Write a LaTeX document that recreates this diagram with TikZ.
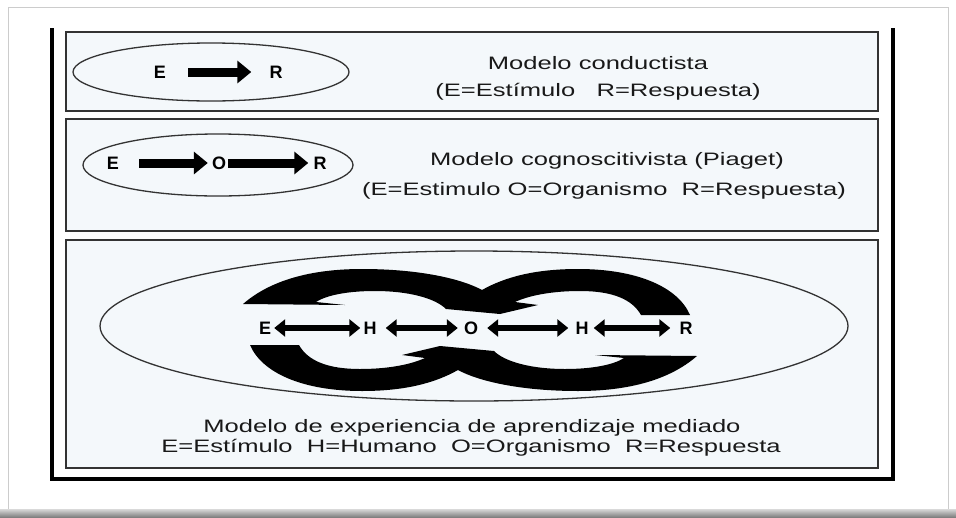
\documentclass[tikz,border=0pt]{standalone}
\usepackage{fontspec}
\setmainfont{Liberation Sans}
\usetikzlibrary{arrows.meta}
\definecolor{panelfill}{HTML}{F4F8FB}
\tikzset{
  panel/.style={draw=black!80, line width=1.4pt, fill=panelfill},
  oval/.style={draw=black!80, line width=1.3pt},
  letter/.style={font=\fontsize{18}{18}\selectfont\bfseries, inner sep=0pt, minimum width=12pt},
  caption/.style={font=\fontsize{18}{21}\selectfont, text=black!90, xscale=1.42, transform shape, align=center},
  fatarrow/.style={line width=9pt, -{Triangle[length=14pt,width=22pt]}},
  twoway/.style={line width=6pt, {Triangle[length=11pt,width=17pt]}-{Triangle[length=11pt,width=17pt]}},
  halfloop/.pic={
    \fill (243,304) .. controls (266,284) and (303,269) .. (362,269)
      .. controls (420,269) and (462,279) .. (482,290)
      .. controls (505,277) and (535,269) .. (578,269)
      .. controls (637,269) and (678,287) .. (690,315)
      -- (641,315)
      .. controls (632,299) and (612,291) .. (580,291)
      .. controls (550,291) and (528,296) .. (515,302)
      -- (538,305) -- (500,314) -- (446,309)
      .. controls (435,298) and (408,291) .. (375,291)
      .. controls (345,291) and (325,296) .. (316,302)
      -- (345,305) -- cycle;
  }
}
\begin{document}
\begin{tikzpicture}[x=1pt, y=-1pt]
  \useasboundingbox (0,0) rectangle (956,517);
  \fill[white] (0,0) rectangle (956,517);
  \draw[black!20, line width=1pt] (8.5,7.5) rectangle (948,509);
  \shade[top color=black!15, bottom color=black!50] (0,509) rectangle (956,517);

  \draw[line width=3.5pt] (52,28) -- (52,479) -- (893,479) -- (893,28);

  \draw[panel] (66,32) rectangle (878,111);
  \draw[panel] (66,119) rectangle (878,231);
  \draw[panel] (66,240) rectangle (878,468);

  % modelo conductista
  \draw[oval] (211,72) ellipse [x radius=138, y radius=29];
  \node[letter] (e1) at (160,72) {E};
  \node[letter] (r1) at (276,72) {R};
  \draw[fatarrow, shorten <=22pt, shorten >=18pt] (e1) -- (r1);
  \node[caption] (t1a) at (598,63) {Modelo conductista};
  \node[caption] (t1b) at (598,92) {(E=Estímulo~~~R=Respuesta)};

  % modelo cognoscitivista
  \draw[oval] (218,165) ellipse [x radius=135, y radius=31];
  \node[letter] (e2) at (113,163) {E};
  \node[letter] (o2) at (219,163) {O};
  \node[letter] (r2) at (320,163) {R};
  \draw[fatarrow, shorten <=20pt, shorten >=4pt] (e2) -- (o2);
  \draw[fatarrow, shorten <=2pt, shorten >=5pt] (o2) -- (r2);
  \node[caption] (t2a) at (607,161) {Modelo cognoscitivista (Piaget)};
  \node[caption] (t2b) at (604,191) {(E=Estimulo O=Organismo~~R=Respuesta)};

  % modelo de experiencia de aprendizaje mediado
  \draw[oval] (474,326) ellipse [x radius=374, y radius=75];
  \pic at (0,0) {halfloop};
  \pic[rotate=180] at (940,660) {halfloop};
  \node[letter] (e3) at (265,328) {E};
  \node[letter] (h3) at (370,328) {H};
  \node[letter] (o3) at (471,328) {O};
  \node[letter] (k3) at (582,328) {H};
  \node[letter] (r3) at (686,328) {R};
  \draw[twoway, shorten <=3pt, shorten >=3pt] (e3) -- (h3);
  \draw[twoway, shorten <=9pt, shorten >=6pt] (h3) -- (o3);
  \draw[twoway, shorten <=9pt, shorten >=7pt] (o3) -- (k3);
  \draw[twoway, shorten <=5pt, shorten >=9pt] (k3) -- (r3);
  \node[caption] (t3a) at (472,428) {Modelo de experiencia de aprendizaje mediado};
  \node[caption] (t3b) at (471,448) {E=Estímulo~~H=Humano~~O=Organismo~~R=Respuesta};
\end{tikzpicture}
\end{document}
